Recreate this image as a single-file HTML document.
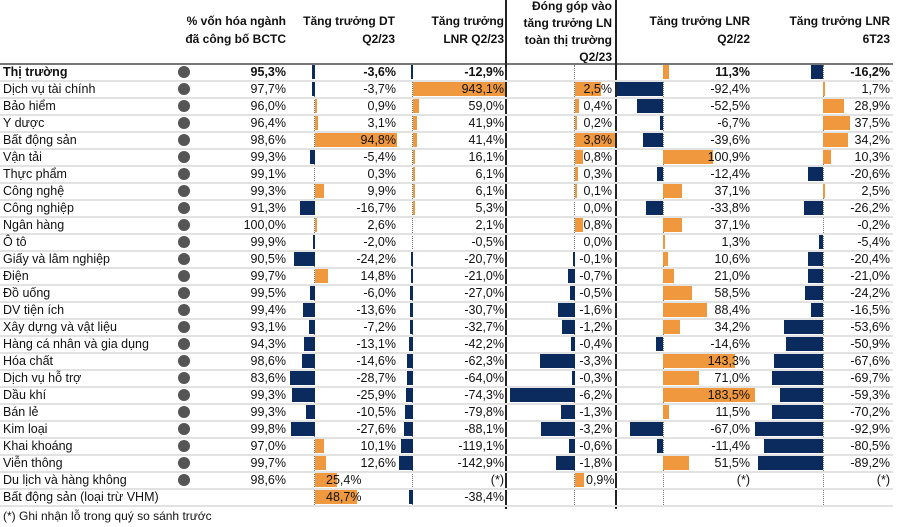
<!DOCTYPE html>
<html><head><meta charset="utf-8"><style>
body{margin:0;width:899px;height:527px;background:#fff;position:relative;overflow:hidden;font-family:"Liberation Sans",sans-serif;color:#111}
.a{position:absolute;white-space:nowrap}
.h{font-weight:bold;font-size:12px;text-align:right;line-height:17.5px}
.t{font-size:12.5px;line-height:17px}
.r{text-align:right}
.bar{position:absolute;height:14px}
.o{background:#F0983E}.n{background:#0B2A5E}
.ln{position:absolute;left:0;width:893px;height:2px;background:#e2e2e2}
.ax{position:absolute;width:0;border-left:1px dotted #777;top:65px;height:442px}
</style></head><body>
<div class="a h" style="right:613px;top:13px">% vốn hóa ngành<br>đã công bố BCTC</div>
<div class="a h" style="right:504px;top:13px">Tăng trưởng DT<br>Q2/23</div>
<div class="a h" style="right:395px;top:13px">Tăng trưởng<br>LNR Q2/23</div>
<div class="a h" style="right:287px;top:-2px;line-height:17px">Đóng góp vào<br>tăng trưởng LN<br>toàn thị trường<br>Q2/23</div>
<div class="a h" style="right:149px;top:13px">Tăng trưởng LNR<br>Q2/22</div>
<div class="a h" style="right:9px;top:13px">Tăng trưởng LNR<br>6T23</div>
<div class="a" style="left:0;top:63px;width:893px;height:2px;background:#777"></div>
<div class="a" style="left:505px;top:0;width:2px;height:509px;background:#222"></div>
<div class="a" style="left:615px;top:0;width:2px;height:509px;background:#222"></div>
<div class="ax" style="left:314px"></div><div class="ax" style="left:412px"></div>
<div class="ax" style="left:574px"></div><div class="ax" style="left:663px"></div>
<div class="ax" style="left:823px"></div>
<div class="a t" style="left:3px;top:508px;font-size:12px">(*) Ghi nhận lỗ trong quý so sánh trước</div>
<div id="c"></div>
<script>
var D=[
["Thị trường",95.3,-3.6,-12.9,null,11.3,-16.2],
["Dịch vụ tài chính",97.7,-3.7,943.1,2.5,-92.4,1.7],
["Bảo hiểm",96.0,0.9,59.0,0.4,-52.5,28.9],
["Y dược",96.4,3.1,41.9,0.2,-6.7,37.5],
["Bất động sản",98.6,94.8,41.4,3.8,-39.6,34.2],
["Vận tải",99.3,-5.4,16.1,0.8,100.9,10.3],
["Thực phẩm",99.1,0.3,6.1,0.3,-12.4,-20.6],
["Công nghệ",99.3,9.9,6.1,0.1,37.1,2.5],
["Công nghiệp",91.3,-16.7,5.3,0.0,-33.8,-26.2],
["Ngân hàng",100.0,2.6,2.1,0.8,37.1,-0.2],
["Ô tô",99.9,-2.0,-0.5,0.0,1.3,-5.4],
["Giấy và lâm nghiệp",90.5,-24.2,-20.7,-0.1,10.6,-20.4],
["Điện",99.7,14.8,-21.0,-0.7,21.0,-21.0],
["Đồ uống",99.5,-6.0,-27.0,-0.5,58.5,-24.2],
["DV tiện ích",99.4,-13.6,-30.7,-1.6,88.4,-16.5],
["Xây dựng và vật liệu",93.1,-7.2,-32.7,-1.2,34.2,-53.6],
["Hàng cá nhân và gia dụng",94.3,-13.1,-42.2,-0.4,-14.6,-50.9],
["Hóa chất",98.6,-14.6,-62.3,-3.3,143.3,-67.6],
["Dịch vụ hỗ trợ",83.6,-28.7,-64.0,-0.3,71.0,-69.7],
["Dầu khí",99.3,-25.9,-74.3,-6.2,183.5,-59.3],
["Bán lẻ",99.3,-10.5,-79.8,-1.3,11.5,-70.2],
["Kim loại",99.8,-27.6,-88.1,-3.2,-67.0,-92.9],
["Khai khoáng",97.0,10.1,-119.1,-0.6,-11.4,-80.5],
["Viễn thông",99.7,12.6,-142.9,-1.8,51.5,-89.2],
["Du lịch và hàng không",98.6,25.4,"(*)",0.9,"(*)","(*)"],
["Bất động sản (loại trừ VHM)",null,48.7,-38.4,null,null,null]];
var C=[[315,0.87,396],[413,0.098,504],[575,10.5,612],[663,0.5,750],[823,0.73,890]];
var h="";
function f(v){return v.toFixed(1).replace(".",",")+"%";}
D.forEach(function(r,i){
 var y=65+i*17, b=i==0?"font-weight:bold;":"";
 h+='<div class="ln" style="top:'+(y+15)+'px"></div>';
 h+='<div class="a t" style="left:3px;top:'+(y-1)+'px;'+b+'">'+r[0]+'</div>';
 if(r[1]!=null){h+='<div class="a" style="left:178px;top:'+(y+1)+'px;width:12px;height:12px;border-radius:50%;background:#555"></div>';
 h+='<div class="a t r" style="right:'+(899-286)+'px;top:'+(y-1)+'px;'+b+'">'+f(r[1])+'</div>';}
 for(var k=0;k<5;k++){var v=r[k+2],c=C[k];if(v==null)continue;
  if(typeof v=="string"){h+='<div class="a t r" style="right:'+(899-c[2])+'px;top:'+(y-1)+'px">'+v+'</div>';continue;}
  var w=Math.abs(v)*c[1];if(w>0.3){w=Math.max(w,2);
   var x=v<0?c[0]-w:c[0];
   h+='<div class="bar '+(v<0?'n':'o')+'" style="left:'+x+'px;top:'+y+'px;width:'+w+'px"></div>';}
  var left=(i==24&&k==0)?326:(i==25&&k==0)?326:(i==24&&k==2)?586:null;
  if(left!=null)h+='<div class="a t" style="left:'+left+'px;top:'+(y-1)+'px">'+f(v)+'</div>';
  else h+='<div class="a t r" style="right:'+(899-c[2])+'px;top:'+(y-1)+'px;'+b+'">'+f(v)+'</div>';}
});
document.getElementById("c").innerHTML=h;
</script>
</body></html>
